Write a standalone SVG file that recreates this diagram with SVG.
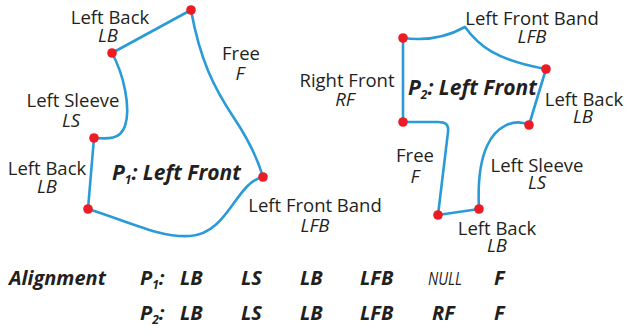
<svg xmlns="http://www.w3.org/2000/svg" width="626" height="333" viewBox="0 0 626 333">
<style>
.edge{fill:none;stroke:#2a9bd7;stroke-width:2.6;stroke-linecap:round;stroke-linejoin:round}
.pt{fill:#ec1c24}
text{font-family:"Open Sans","Noto Sans","Liberation Sans",sans-serif;fill:#231f20}
.lb{font-size:18.5px;text-anchor:middle}
.ab{font-size:18.5px;font-style:italic;text-anchor:middle}
.title{font-size:21px;font-weight:bold;font-style:italic}
.tb{font-size:20px;font-weight:bold;font-style:italic}
.sub{font-size:12px}
.null{font-size:19px;font-style:italic}
</style>
<rect width="626" height="333" fill="#ffffff"/>
<g id="connectors">
<path class="edge" d="M191,10 L112,53"/>
<path class="edge" d="M112,53 C124,75 131,108 125,126 C120,140 108,139 94,138"/>
<path class="edge" d="M94,138 L88,209"/>
<path class="edge" d="M88,209 C130,222 160,238 190,236 C228,234 236,182 263,177"/>
<path class="edge" d="M191,10 C200,60 214,88 234,118 C250,142 258,160 263,177"/>
<path class="edge" d="M403,38 C425,41 447,37 465,27"/>
<path class="edge" d="M465,27 C478,45 495,60 546,69"/>
<path class="edge" d="M546,69 L529,125"/>
<path class="edge" d="M529,125 C514,118 496,126 487,146 C478,166 478,190 479,209"/>
<path class="edge" d="M479,209 L438,215"/>
<path class="edge" d="M438,215 L448,132 C449,124 445,122 438,122 L403,122"/>
<path class="edge" d="M403,122 L403,38"/>
</g>
<g id="p1">
<circle class="pt" cx="191" cy="10" r="4.8"/>
<circle class="pt" cx="112" cy="53" r="4.8"/>
<circle class="pt" cx="94" cy="138" r="4.8"/>
<circle class="pt" cx="88" cy="209" r="4.8"/>
<circle class="pt" cx="263" cy="177" r="4.8"/>
<text class="title" x="112" y="180">P<tspan class="sub" dy="4">1</tspan><tspan dy="-4">: Left Front</tspan></text>
</g>
<g id="p2">
<circle class="pt" cx="403" cy="38" r="4.8"/>
<circle class="pt" cx="403" cy="122" r="4.8"/>
<circle class="pt" cx="438" cy="215" r="4.8"/>
<circle class="pt" cx="479" cy="209" r="4.8"/>
<circle class="pt" cx="529" cy="125" r="4.8"/>
<circle class="pt" cx="546" cy="69" r="4.8"/>
<text class="title" x="408" y="95">P<tspan class="sub" dy="4">2</tspan><tspan dy="-4">: Left Front</tspan></text>
</g>
<g id="p1-labels">
<text class="lb" x="110" y="24">Left Back</text><text class="ab" x="108" y="42">LB</text>
<text class="lb" x="241" y="60">Free</text><text class="ab" x="240" y="80">F</text>
<text class="lb" x="73" y="107">Left Sleeve</text><text class="ab" x="71" y="127">LS</text>
<text class="lb" x="47" y="175">Left Back</text><text class="ab" x="47" y="193">LB</text>
<text class="lb" x="315" y="212">Left Front Band</text><text class="ab" x="315" y="232">LFB</text>
</g>
<g id="p2-labels">
<text class="lb" x="532" y="25">Left Front Band</text><text class="ab" x="532" y="43">LFB</text>
<text class="lb" x="347" y="87">Right Front</text><text class="ab" x="345" y="106">RF</text>
<text class="lb" x="584" y="106">Left Back</text><text class="ab" x="583" y="123">LB</text>
<text class="lb" x="415" y="162">Free</text><text class="ab" x="415" y="183">F</text>
<text class="lb" x="537" y="172">Left Sleeve</text><text class="ab" x="537" y="189">LS</text>
<text class="lb" x="497" y="235">Left Back</text><text class="ab" x="497" y="252">LB</text>
</g>
<g id="alignment">
<text class="tb" x="9" y="285">Alignment</text>
<text class="tb" x="140" y="285">P<tspan class="sub" dy="4">1</tspan><tspan dy="-4">:</tspan></text>
<text class="tb" x="180" y="285">LB</text>
<text class="tb" x="241" y="285">LS</text>
<text class="tb" x="300" y="285">LB</text>
<text class="tb" x="360" y="285">LFB</text>
<text class="null" x="428" y="285" textLength="34" lengthAdjust="spacingAndGlyphs">NULL</text>
<text class="tb" x="494" y="285">F</text>
<text class="tb" x="140" y="320">P<tspan class="sub" dy="4">2</tspan><tspan dy="-4">:</tspan></text>
<text class="tb" x="180" y="320">LB</text>
<text class="tb" x="241" y="320">LS</text>
<text class="tb" x="300" y="320">LB</text>
<text class="tb" x="360" y="320">LFB</text>
<text class="tb" x="432" y="320">RF</text>
<text class="tb" x="494" y="320">F</text>
</g>
</svg>
